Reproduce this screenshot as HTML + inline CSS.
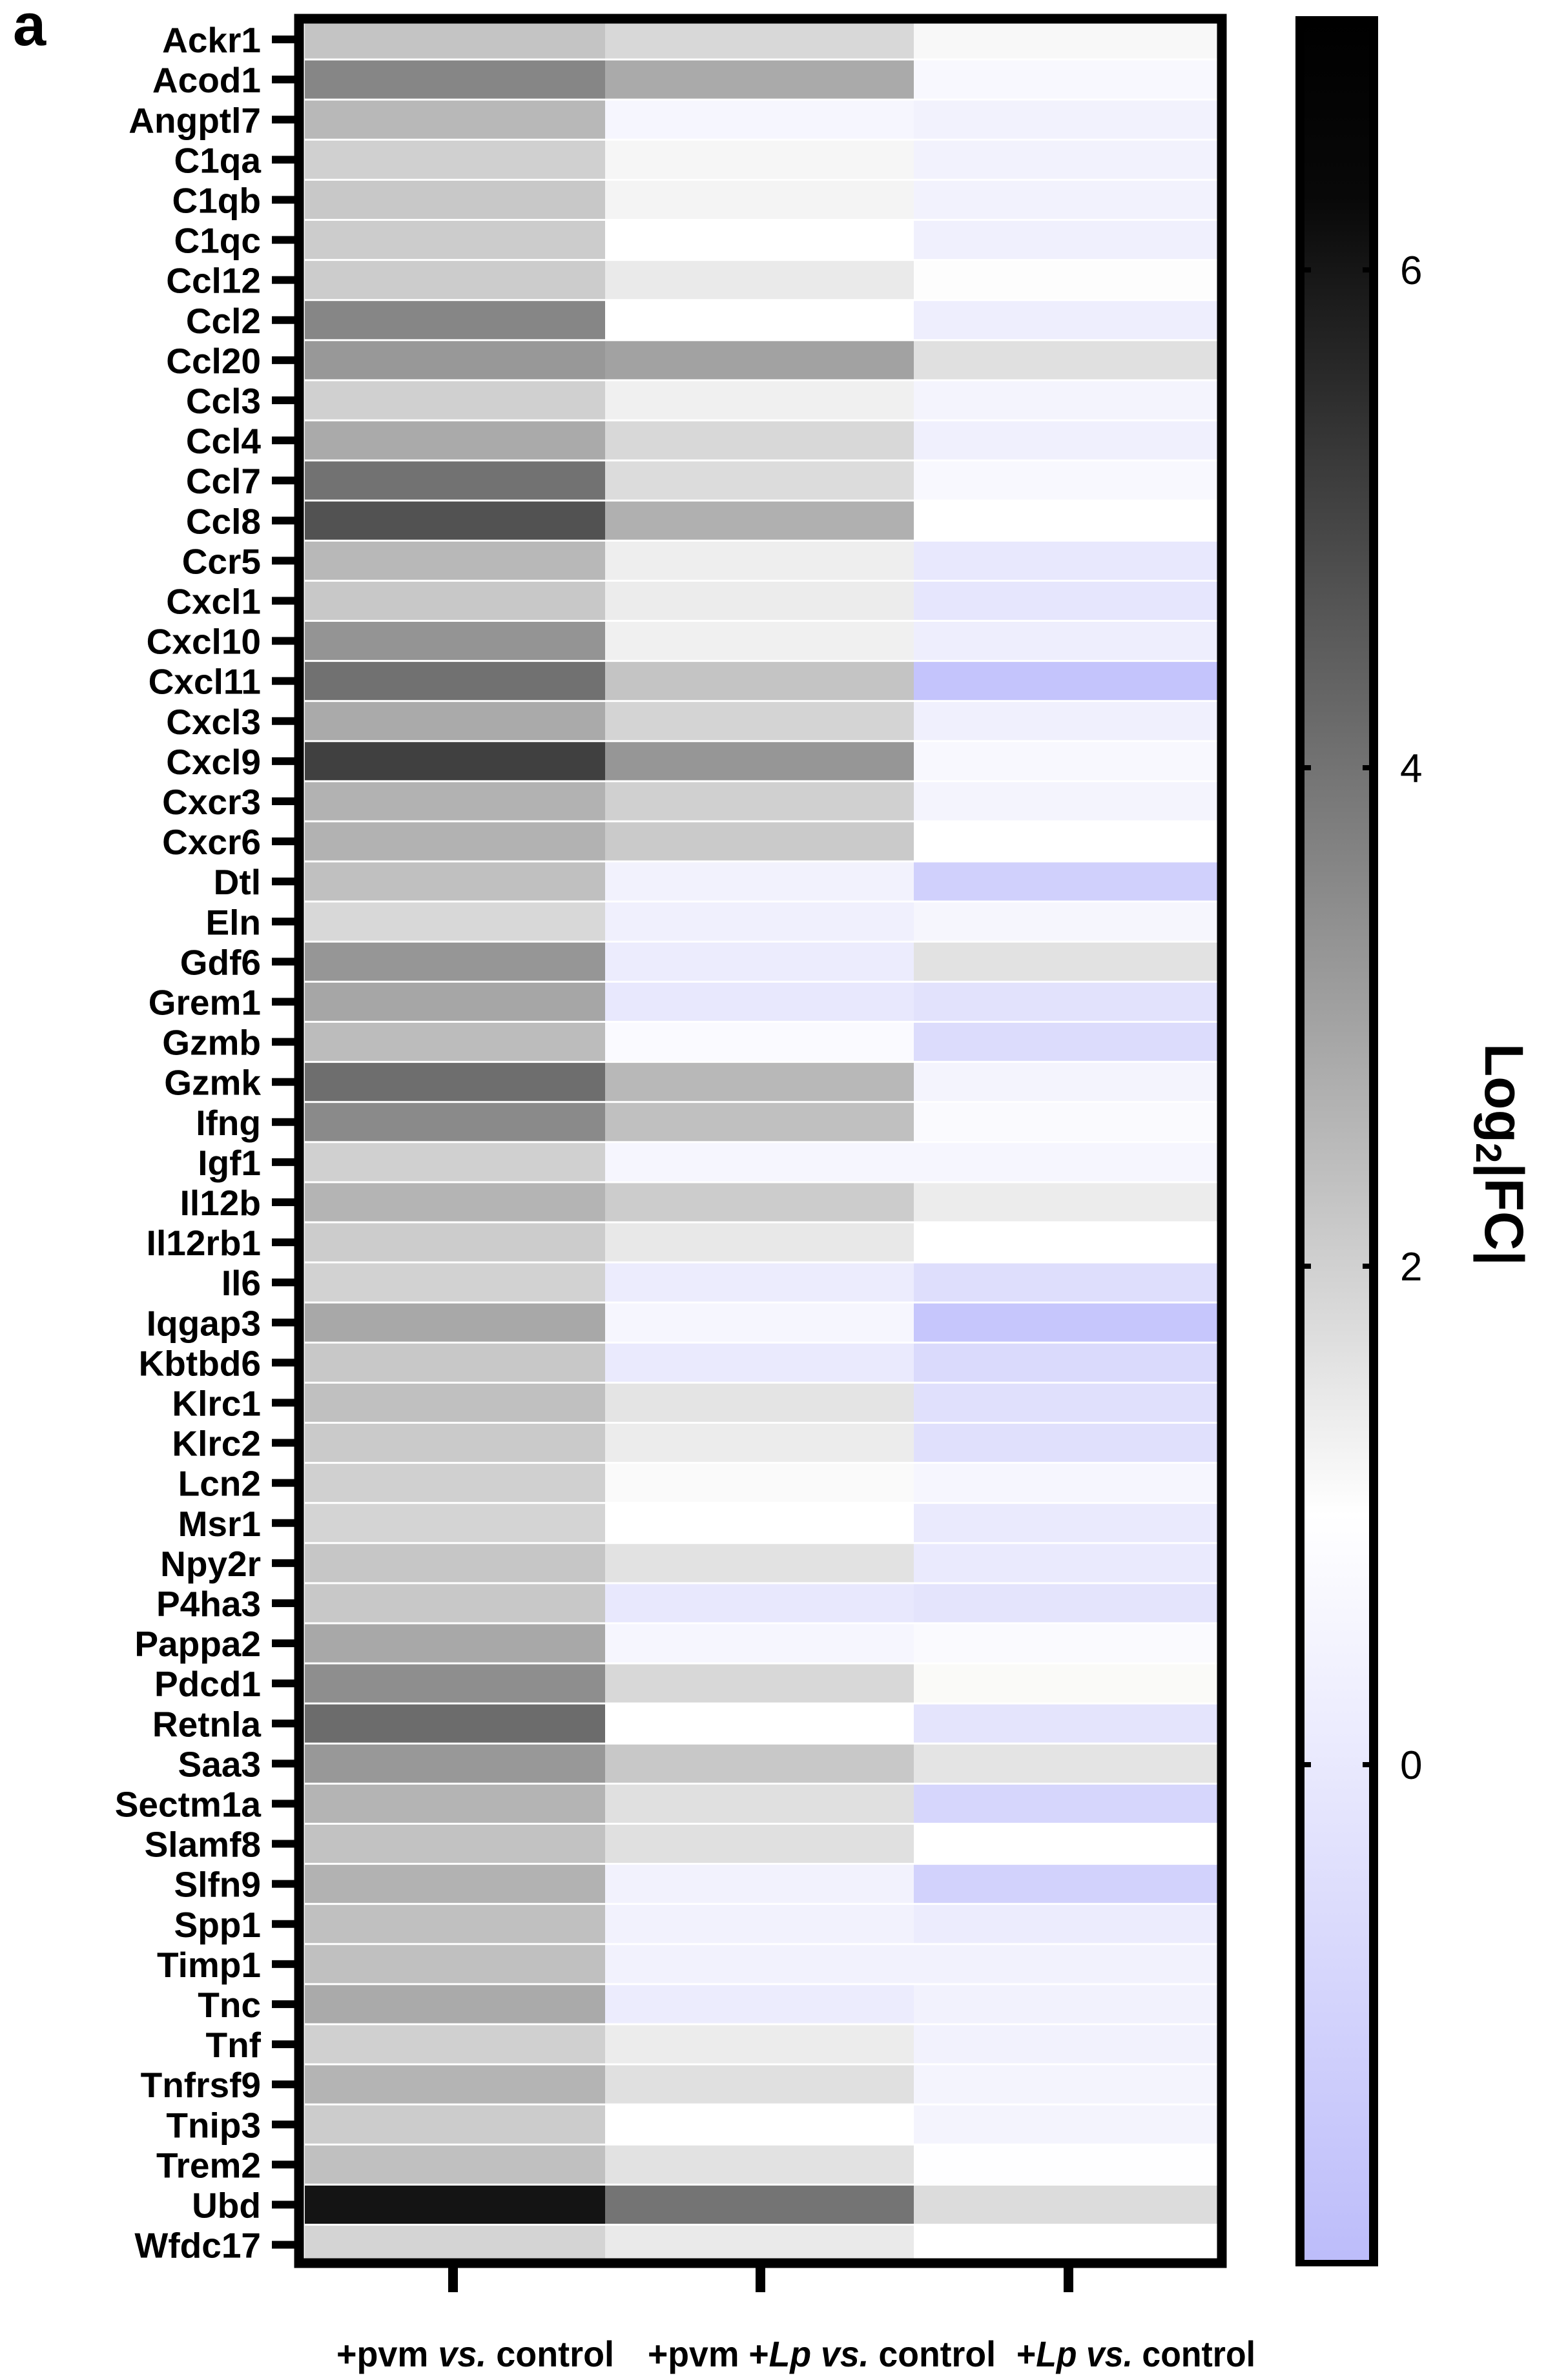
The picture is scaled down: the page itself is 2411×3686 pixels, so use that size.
<!DOCTYPE html>
<html><head><meta charset="utf-8"><style>html,body{margin:0;padding:0;background:#fff}svg{display:block}</style></head>
<body>
<svg xmlns="http://www.w3.org/2000/svg" width="2411" height="3686" viewBox="0 0 2411 3686">
<defs>
<linearGradient id="cb" gradientUnits="userSpaceOnUse" x1="0" y1="25" x2="0" y2="3510">
<stop offset="0" stop-color="#000"/>
<stop offset="0.08" stop-color="#080808"/>
<stop offset="0.666" stop-color="#ffffff"/>
<stop offset="1" stop-color="#bcbcfa"/>
</linearGradient>
<clipPath id="hm"><rect x="472" y="36" width="1413" height="3462"/></clipPath>
</defs>
<text x="20" y="70" font-family="Liberation Sans, sans-serif" font-weight="bold" font-size="92">a</text>
<g id="cells" clip-path="url(#hm)"></g>
<rect x="463" y="29" width="1429" height="3476" fill="none" stroke="#000" stroke-width="15"/>
<g id="labels" font-family="Liberation Sans, sans-serif" font-weight="bold" font-size="55" text-anchor="end"></g>
<g fill="#000">
<rect x="694" y="3505" width="15" height="45"/>
<rect x="1170" y="3505" width="15" height="45"/>
<rect x="1647" y="3505" width="15" height="45"/>
</g>
<g font-family="Liberation Sans, sans-serif" font-weight="bold" font-size="56">
<text x="521" y="3665" textLength="430" lengthAdjust="spacingAndGlyphs">+pvm <tspan font-style="italic">vs.</tspan> control</text>
<text x="1003" y="3665" textLength="539" lengthAdjust="spacingAndGlyphs">+pvm +<tspan font-style="italic">Lp vs.</tspan> control</text>
<text x="1574" y="3665" textLength="370" lengthAdjust="spacingAndGlyphs">+<tspan font-style="italic">Lp vs.</tspan> control</text>
</g>
<rect x="2006" y="25" width="128" height="3485" fill="#000"/>
<rect x="2020" y="30" width="100" height="3470" fill="url(#cb)"/>
<g fill="#000">
<rect x="2020" y="414" width="10" height="8"/><rect x="2110" y="414" width="10" height="8"/>
<rect x="2020" y="1185" width="10" height="8"/><rect x="2110" y="1185" width="10" height="8"/>
<rect x="2020" y="1957" width="10" height="8"/><rect x="2110" y="1957" width="10" height="8"/>
<rect x="2020" y="2729" width="10" height="8"/><rect x="2110" y="2729" width="10" height="8"/>
</g>
<g font-family="Liberation Sans, sans-serif" font-size="62">
<text x="2168" y="440">6</text>
<text x="2168" y="1211">4</text>
<text x="2168" y="1983">2</text>
<text x="2168" y="2755">0</text>
</g>
<text transform="translate(2300,1616) rotate(90)" font-family="Liberation Sans, sans-serif" font-weight="bold" font-size="84">Log<tspan font-size="56" dy="14">2</tspan><tspan dy="-14">|FC|</tspan></text>
<script>
var genes=["Ackr1","Acod1","Angptl7","C1qa","C1qb","C1qc","Ccl12","Ccl2","Ccl20","Ccl3","Ccl4","Ccl7","Ccl8","Ccr5","Cxcl1","Cxcl10","Cxcl11","Cxcl3","Cxcl9","Cxcr3","Cxcr6","Dtl","Eln","Gdf6","Grem1","Gzmb","Gzmk","Ifng","Igf1","Il12b","Il12rb1","Il6","Iqgap3","Kbtbd6","Klrc1","Klrc2","Lcn2","Msr1","Npy2r","P4ha3","Pappa2","Pdcd1","Retnla","Saa3","Sectm1a","Slamf8","Slfn9","Spp1","Timp1","Tnc","Tnf","Tnfrsf9","Tnip3","Trem2","Ubd","Wfdc17"];
var c=[
["#c4c4c4","#d8d8d8","#f8f8f8"],["#868686","#aaaaaa","#f8f8fe"],["#b8b8b8","#f6f6fe","#f2f2fd"],["#d0d0d0","#f6f6f6","#f2f2fd"],["#c8c8c8","#f4f4f4","#f2f2fd"],["#cccccc","#ffffff","#f0f0fd"],["#cccccc","#eaeaea","#fdfdfd"],["#868686","#ffffff","#eeeefd"],["#989898","#a2a2a2","#e0e0e0"],["#d0d0d0","#f0f0f0","#f4f4fd"],["#aaaaaa","#d8d8d8","#f0f0fd"],["#727272","#dcdcdc","#f8f8fe"],["#525252","#b0b0b0","#ffffff"],["#b8b8b8","#eeeeee","#e8e8fd"],["#c8c8c8","#ececec","#e6e6fd"],["#949494","#f0f0f0","#eeeefd"],["#717171","#c4c4c4","#c4c4fc"],["#aaaaaa","#d4d4d4","#f0f0fd"],["#404040","#969696","#f8f8fe"],["#b2b2b2","#d0d0d0","#f4f4fd"],["#b2b2b2","#cacaca","#ffffff"],["#c0c0c0","#f2f2fd","#d0d0fc"],["#d8d8d8","#f0f0fd","#f6f6fd"],["#969696","#ececfd","#e2e2e2"],["#a6a6a6","#e8e8fd","#e2e2fc"],["#bcbcbc","#fafaff","#dcdcfc"],["#6e6e6e","#b8b8b8","#f4f4fd"],["#8a8a8a","#c0c0c0","#fafafe"],["#d0d0d0","#f6f6fe","#f6f6fe"],["#b4b4b4","#cccccc","#ececec"],["#cccccc","#e8e8e8","#ffffff"],["#d2d2d2","#ececfd","#dedefc"],["#a8a8a8","#f6f6fe","#c6c6fc"],["#c8c8c8","#eaeafd","#dadafc"],["#c0c0c0","#e4e4e4","#e0e0fc"],["#cacaca","#ececec","#e0e0fc"],["#d0d0d0","#fafafa","#f6f6fe"],["#d4d4d4","#ffffff","#eaeafd"],["#c6c6c6","#e2e2e2","#eaeafd"],["#c8c8c8","#e8e8fd","#e4e4fc"],["#a8a8a8","#f6f6fe","#fafafe"],["#8e8e8e","#d8d8d8","#fafaf8"],["#6c6c6c","#ffffff","#e4e4fc"],["#989898","#c8c8c8","#e4e4e4"],["#b4b4b4","#e0e0e0","#d6d6fc"],["#c2c2c2","#e0e0e0","#ffffff"],["#b2b2b2","#f2f2fd","#d2d2fc"],["#c0c0c0","#f2f2fd","#ececfd"],["#c0c0c0","#f2f2fd","#f2f2fd"],["#aaaaaa","#ececfd","#f2f2fd"],["#d0d0d0","#ececec","#f2f2fd"],["#b4b4b4","#e0e0e0","#f4f4fd"],["#cccccc","#ffffff","#f4f4fd"],["#c0c0c0","#e2e2e2","#fefeff"],["#141414","#747474","#dcdcdc"],["#d4d4d4","#eaeaea","#ffffff"]];
var NS="http://www.w3.org/2000/svg",g=document.getElementById("cells"),L=document.getElementById("labels");
var xs=[472,937,1415,1885],y0=30,h=62.1;
for(var i=0;i<56;i++){var y=y0+i*h;
for(var j=0;j<3;j++){var r=document.createElementNS(NS,"rect");r.setAttribute("x",xs[j]);r.setAttribute("y",y+1.5);r.setAttribute("width",xs[j+1]-xs[j]);r.setAttribute("height",h-3);r.setAttribute("fill",c[i][j]);g.appendChild(r);}
var t=document.createElementNS(NS,"text");t.setAttribute("x",404);t.setAttribute("y",y+h/2+20);t.textContent=genes[i];L.appendChild(t);
var k=document.createElementNS(NS,"rect");k.setAttribute("x",421);k.setAttribute("y",y+h/2-6);k.setAttribute("width",40);k.setAttribute("height",12);L.appendChild(k);}
</script>
</svg>
</body></html>
